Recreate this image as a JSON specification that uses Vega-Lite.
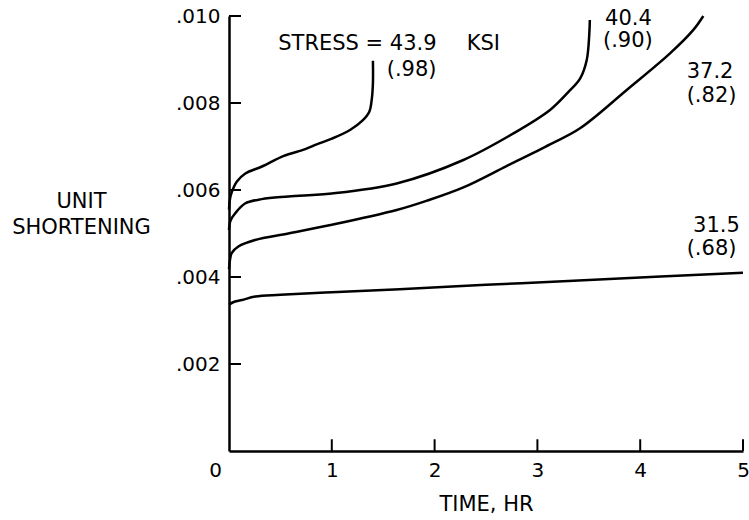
{
  "$schema": "https://vega.github.io/schema/vega-lite/v6.json",
  "width": 514,
  "height": 435,
  "autosize": {"type": "none"},
  "padding": {"left": 229, "top": 16, "right": 6, "bottom": 69},
  "background": "white",
  "config": {
    "view": {"stroke": null},
    "font": "DejaVu Sans",
    "axis": {"grid": false, "ticks": false, "domainColor": "black", "domainWidth": 2.5, "labelColor": "black", "titleColor": "black", "labelFont": "DejaVu Sans", "titleFont": "DejaVu Sans", "titleFontWeight": "normal"}
  },
  "encoding": {
    "x": {
      "field": "t", "type": "quantitative",
      "scale": {"domain": [0, 5], "nice": false, "zero": false},
      "axis": {
        "values": [0, 1, 2, 3, 4, 5], "labelPadding": 9, "labelFontSize": 20,
        "labelFlush": false, "labelOverlap": false,
        "labelOffset": {"condition": {"test": "datum.value == 0", "value": -14}, "value": 0},
        "title": "TIME, HR", "titleFontSize": 21, "titleBaseline": "alphabetic", "titleY": 59, "titleX": 257, "titleAlign": "center"
      }
    },
    "y": {
      "field": "u", "type": "quantitative",
      "scale": {"domain": [0, 0.01], "nice": false, "zero": false},
      "axis": {
        "values": [0.002, 0.004, 0.006, 0.008, 0.01], "labelPadding": 9, "labelFontSize": 20,
        "labelExpr": "substring(format(datum.value, '.3f'), 1)", "labelFlush": false, "labelOverlap": false,
        "title": ["UNIT", "SHORTENING"], "titleFontSize": 21, "titleAngle": 0, "titleAlign": "center",
        "titleBaseline": "alphabetic", "titleX": -148, "titleY": 191, "titleLineHeight": 26
      }
    }
  },
  "layer": [
    {
      "data": {"values": [{"t": 0, "u": 0.002}, {"t": 0, "u": 0.004}, {"t": 0, "u": 0.006}, {"t": 0, "u": 0.008}, {"t": 0, "u": 0.01}]},
      "mark": {"type": "rule", "color": "black", "strokeWidth": 2},
      "encoding": {"x2": {"datum": 0.117}}
    },
    {
      "data": {"values": [{"t": 1, "u": 0}, {"t": 2, "u": 0}, {"t": 3, "u": 0}, {"t": 4, "u": 0}, {"t": 5, "u": 0}]},
      "mark": {"type": "rule", "color": "black", "strokeWidth": 2},
      "encoding": {"y2": {"datum": 0.00027}}
    },
    {
      "data": {"values": [
        {"s": "31.5", "i": 0, "t": 0, "u": 0.00336},
        {"s": "31.5", "i": 1, "t": 0.04, "u": 0.00342},
        {"s": "31.5", "i": 2, "t": 0.126, "u": 0.00347},
        {"s": "31.5", "i": 3, "t": 0.256, "u": 0.00355},
        {"s": "31.5", "i": 4, "t": 0.5, "u": 0.00359},
        {"s": "31.5", "i": 5, "t": 1.0, "u": 0.00365},
        {"s": "31.5", "i": 6, "t": 1.66, "u": 0.00372},
        {"s": "31.5", "i": 7, "t": 2.5, "u": 0.00382},
        {"s": "31.5", "i": 8, "t": 3.3, "u": 0.00391},
        {"s": "31.5", "i": 9, "t": 4.2, "u": 0.00401},
        {"s": "31.5", "i": 10, "t": 5.0, "u": 0.0041},
        {"s": "37.2", "i": 0, "t": 0, "u": 0.00418},
        {"s": "37.2", "i": 1, "t": 0.01, "u": 0.0044},
        {"s": "37.2", "i": 2, "t": 0.026, "u": 0.00455},
        {"s": "37.2", "i": 3, "t": 0.091, "u": 0.0047},
        {"s": "37.2", "i": 4, "t": 0.253, "u": 0.00485},
        {"s": "37.2", "i": 5, "t": 0.577, "u": 0.005},
        {"s": "37.2", "i": 6, "t": 1.0, "u": 0.0052},
        {"s": "37.2", "i": 7, "t": 1.631, "u": 0.00554},
        {"s": "37.2", "i": 8, "t": 1.92, "u": 0.00575},
        {"s": "37.2", "i": 9, "t": 2.28, "u": 0.00606},
        {"s": "37.2", "i": 10, "t": 2.7, "u": 0.00655},
        {"s": "37.2", "i": 11, "t": 3.123, "u": 0.00705},
        {"s": "37.2", "i": 12, "t": 3.415, "u": 0.00742},
        {"s": "37.2", "i": 13, "t": 3.869, "u": 0.0083},
        {"s": "37.2", "i": 14, "t": 4.29, "u": 0.00914},
        {"s": "37.2", "i": 15, "t": 4.517, "u": 0.00968},
        {"s": "37.2", "i": 16, "t": 4.614, "u": 0.01},
        {"s": "40.4", "i": 0, "t": 0, "u": 0.00508},
        {"s": "40.4", "i": 1, "t": 0.015, "u": 0.0053},
        {"s": "40.4", "i": 2, "t": 0.059, "u": 0.00546},
        {"s": "40.4", "i": 3, "t": 0.156, "u": 0.00569},
        {"s": "40.4", "i": 4, "t": 0.318, "u": 0.00579},
        {"s": "40.4", "i": 5, "t": 0.577, "u": 0.00585},
        {"s": "40.4", "i": 6, "t": 1.0, "u": 0.00592},
        {"s": "40.4", "i": 7, "t": 1.631, "u": 0.00615},
        {"s": "40.4", "i": 8, "t": 2.28, "u": 0.00669},
        {"s": "40.4", "i": 9, "t": 2.766, "u": 0.0073},
        {"s": "40.4", "i": 10, "t": 3.123, "u": 0.00784},
        {"s": "40.4", "i": 11, "t": 3.3, "u": 0.00825},
        {"s": "40.4", "i": 12, "t": 3.415, "u": 0.00856},
        {"s": "40.4", "i": 13, "t": 3.48, "u": 0.00899},
        {"s": "40.4", "i": 14, "t": 3.505, "u": 0.0096},
        {"s": "40.4", "i": 15, "t": 3.51, "u": 0.00991},
        {"s": "43.9", "i": 0, "t": 0, "u": 0.00555},
        {"s": "43.9", "i": 1, "t": 0.01, "u": 0.0058},
        {"s": "43.9", "i": 2, "t": 0.027, "u": 0.00595},
        {"s": "43.9", "i": 3, "t": 0.075, "u": 0.00619},
        {"s": "43.9", "i": 4, "t": 0.159, "u": 0.00638},
        {"s": "43.9", "i": 5, "t": 0.321, "u": 0.00654},
        {"s": "43.9", "i": 6, "t": 0.528, "u": 0.00678},
        {"s": "43.9", "i": 7, "t": 0.742, "u": 0.00694},
        {"s": "43.9", "i": 8, "t": 0.853, "u": 0.00705},
        {"s": "43.9", "i": 9, "t": 1.0, "u": 0.00718},
        {"s": "43.9", "i": 10, "t": 1.177, "u": 0.00738},
        {"s": "43.9", "i": 11, "t": 1.3, "u": 0.0076},
        {"s": "43.9", "i": 12, "t": 1.365, "u": 0.0078},
        {"s": "43.9", "i": 13, "t": 1.388, "u": 0.00807},
        {"s": "43.9", "i": 14, "t": 1.4, "u": 0.00845},
        {"s": "43.9", "i": 15, "t": 1.4, "u": 0.00897}
      ]},
      "mark": {"type": "line", "color": "black", "strokeWidth": 2.5, "interpolate": "catmull-rom"},
      "encoding": {
        "detail": {"field": "s", "type": "nominal"},
        "order": {"field": "i", "type": "quantitative"}
      }
    },
    {
      "data": {"values": [
        {"t": 0.479, "u": 0.00922, "label": "STRESS = 43.9"},
        {"t": 2.312, "u": 0.00922, "label": "KSI"},
        {"t": 1.534, "u": 0.00863, "label": "(.98)"},
        {"t": 3.658, "u": 0.00979, "label": "40.4"},
        {"t": 3.638, "u": 0.00929, "label": "(.90)"},
        {"t": 4.452, "u": 0.00857, "label": "37.2"},
        {"t": 4.452, "u": 0.00802, "label": "(.82)"},
        {"t": 4.514, "u": 0.00504, "label": "31.5"},
        {"t": 4.452, "u": 0.00451, "label": "(.68)"}
      ]},
      "mark": {"type": "text", "align": "left", "baseline": "alphabetic", "font": "DejaVu Sans", "fontSize": 21, "color": "black"},
      "encoding": {"text": {"field": "label", "type": "nominal"}}
    }
  ]
}
